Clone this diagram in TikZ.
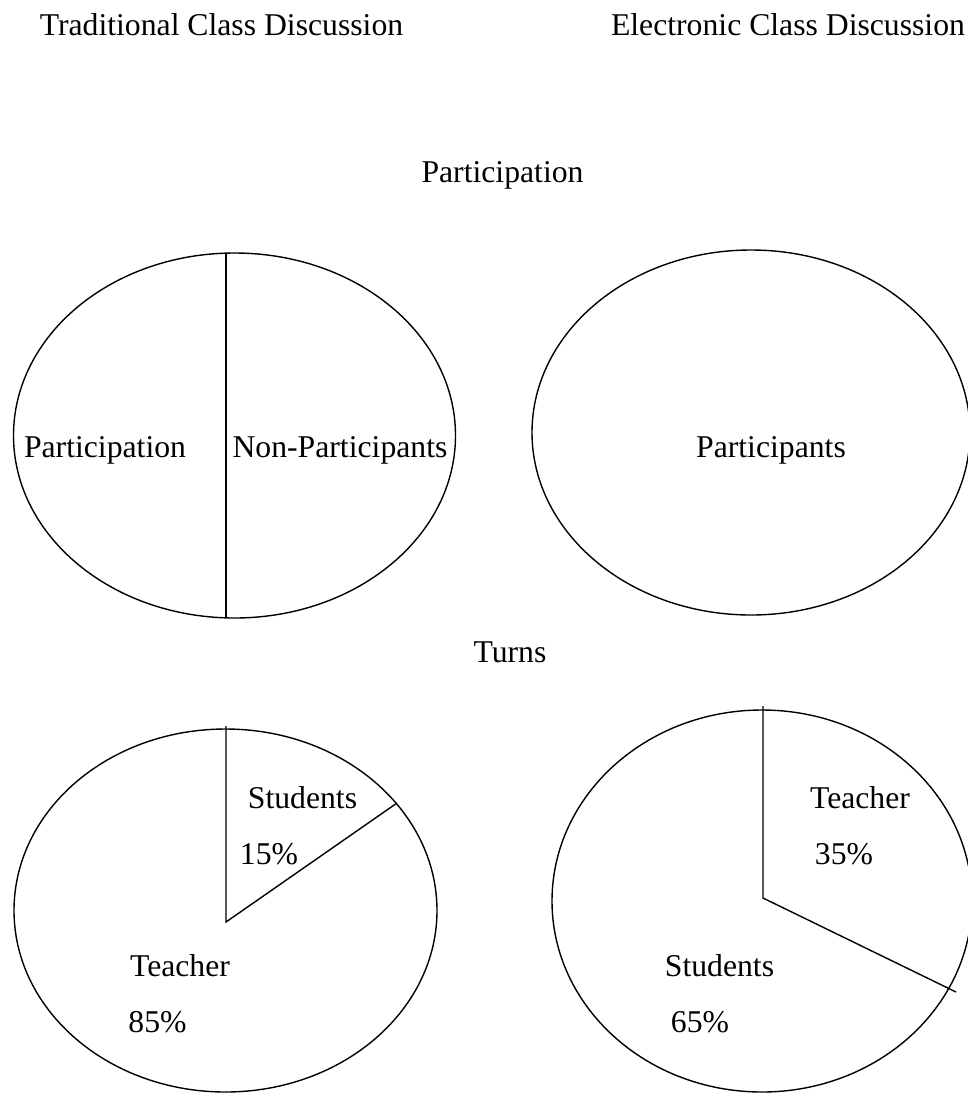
\documentclass[tikz,border=0pt]{standalone}
\usepackage{fontspec}
\setmainfont{Liberation Serif}
\begin{document}
\begin{tikzpicture}[x=1pt,y=-1pt,
  lbl/.style={anchor=base,inner sep=0pt,font=\fontsize{31.7}{36}\selectfont},
  pie/.style={draw=black,line width=1.4pt},
  cut/.style={draw=black,line width=1.4pt}]
\useasboundingbox (0,0) rectangle (968,1093);
% titles
\node[lbl] (t1) at (221.5,35) {Traditional Class Discussion};
\node[lbl] (t2) at (788,35) {Electronic Class Discussion};
\node[lbl] (part) at (502.5,182) {Participation};
\node[lbl] (turns) at (510,662) {Turns};
% top-left pie
\path[pie] (234.5,435.5) ellipse [x radius=221, y radius=182.5];
\coordinate (tla) at (226,253);
\coordinate (tlb) at (226,618);
\draw[cut] (tla) -- (tlb);
\node[lbl] (p1) at (105,457) {Participation};
\node[lbl] (np) at (340,457) {Non-Participants};
% top-right pie
\path[pie] (751,432.5) ellipse [x radius=219, y radius=182.5];
\node[lbl] (p2) at (771,457) {Participants};
% bottom-left pie
\path[pie] (225.5,910.5) ellipse [x radius=211.5, y radius=181.5];
\coordinate (bla) at (226,726);
\coordinate (blc) at (226,922);
\coordinate (blb) at (397,803);
\draw[cut] (bla) -- (blc) -- (blb);
\node[lbl] (s1) at (302.5,808) {Students};
\node[lbl] (s1p) at (269,864) {15\%};
\node[lbl] (te1) at (180,976) {Teacher};
\node[lbl] (te1p) at (157.5,1032) {85\%};
% bottom-right pie
\path[pie] (762,901) ellipse [x radius=210, y radius=191];
\coordinate (bra) at (763,706);
\coordinate (brc) at (763,898);
\coordinate (brb) at (956,992);
\draw[cut] (bra) -- (brc) -- (brb);
\node[lbl] (te2) at (860,808) {Teacher};
\node[lbl] (te2p) at (844,864) {35\%};
\node[lbl] (s2) at (719.5,976) {Students};
\node[lbl] (s2p) at (700,1032) {65\%};
\end{tikzpicture}
\end{document}
